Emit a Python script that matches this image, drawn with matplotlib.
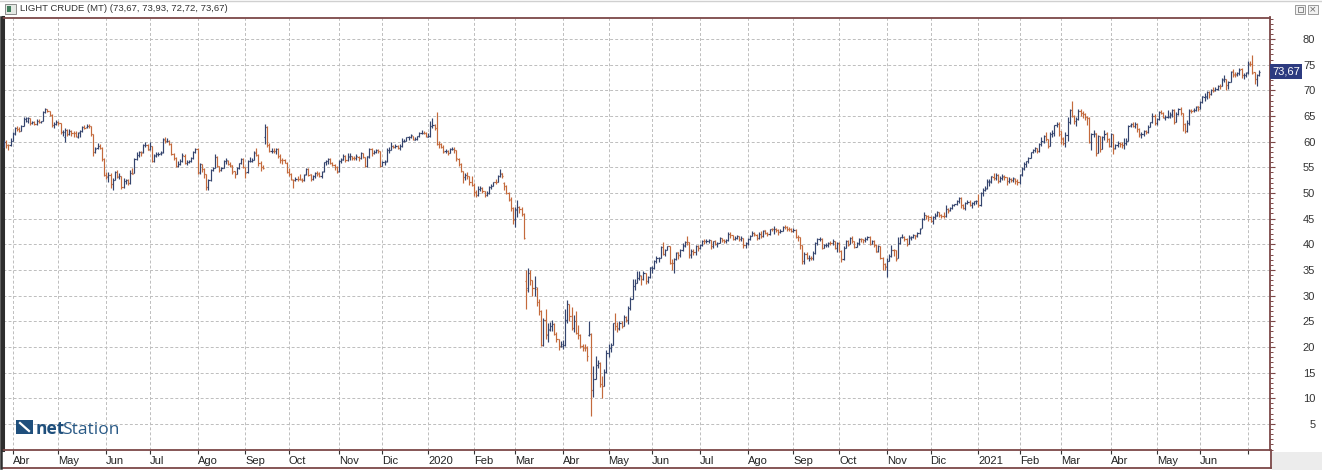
import numpy as np
import matplotlib
matplotlib.use('Agg')
import matplotlib.pyplot as plt
import matplotlib.transforms as mtransforms
from matplotlib.patches import Rectangle
from matplotlib.lines import Line2D
from matplotlib.ticker import MultipleLocator

# Barras diarias LIGHT CRUDE, un renglon por mes (mar 2019 parcial .. jul 2021 parcial)
month_labels = ['', 'Abr', 'May', 'Jun', 'Jul', 'Ago', 'Sep', 'Oct', 'Nov', 'Dic',
                '2020', 'Feb', 'Mar', 'Abr', 'May', 'Jun', 'Jul', 'Ago', 'Sep', 'Oct', 'Nov', 'Dic',
                '2021', 'Feb', 'Mar', 'Abr', 'May', 'Jun', '']

opens = [
    [59.0, 59.9, 59.4, 59.3],
    [60.2, 61.6, 62.6, 62.5, 62.1, 63.1, 64.4, 64.0, 64.6, 63.6, 63.9, 63.4, 64.1, 63.8, 64.1, 65.7, 66.3, 65.9, 65.2, 63.2, 63.5],
    [63.9, 63.6, 61.8, 61.0, 62.3, 61.4, 62.1, 61.7, 61.7, 61.0, 61.8, 62.0, 62.9, 62.8, 63.1, 63.0, 61.4, 57.9, 58.7, 59.1, 58.8, 56.6],
    [53.5, 53.2, 53.5, 51.7, 52.6, 54.0, 53.2, 53.3, 51.2, 52.3, 52.5, 51.9, 53.9, 53.8, 56.7, 57.4, 57.9, 57.9, 59.3, 59.4],
    [58.5, 59.1, 56.3, 57.3, 57.5, 57.7, 57.9, 60.4, 60.2, 60.2, 59.6, 57.6, 56.8, 55.3, 55.6, 56.2, 57.3, 55.9, 56.0, 56.2, 56.9, 58.0],
    [58.6, 54.0, 55.6, 54.7, 53.6, 51.1, 52.6, 54.5, 54.9, 57.1, 55.2, 54.5, 54.9, 56.2, 56.3, 55.7, 55.4, 54.2, 53.6, 54.9, 55.8, 56.7],
    [55.0, 54.0, 56.3, 56.3, 56.5, 57.9, 57.4, 55.8, 55.1, 61.0, 62.9, 59.3, 58.1, 58.1, 58.1, 58.6, 57.3, 56.5, 56.4, 55.9],
    [54.1, 53.6, 52.6, 52.5, 52.8, 52.8, 52.6, 52.6, 53.6, 54.7, 53.6, 52.8, 53.4, 53.9, 53.8, 53.3, 54.2, 56.0, 56.2, 56.7, 55.8, 55.5, 55.1],
    [54.2, 56.3, 56.5, 57.2, 56.4, 57.1, 57.2, 56.9, 56.8, 57.1, 56.8, 57.7, 57.0, 55.2, 57.1, 58.6, 57.8, 58.0, 58.4, 58.1],
    [55.2, 56.0, 56.2, 58.4, 58.4, 59.2, 59.0, 59.2, 58.8, 59.2, 60.1, 60.2, 60.9, 60.9, 61.2, 60.4, 60.5, 61.1, 61.7, 61.7, 61.7],
    [61.0, 61.2, 63.0, 63.3, 62.7, 59.6, 59.6, 59.0, 58.1, 58.2, 57.8, 58.5, 58.5, 58.3, 56.7, 55.6, 54.2, 53.1, 53.5, 53.3, 52.1],
    [51.6, 50.1, 49.6, 50.8, 51.0, 50.3, 49.6, 49.9, 51.2, 51.4, 52.1, 52.1, 53.3, 53.8, 52.0, 51.4, 49.9, 48.7, 47.1],
    [45.0, 46.8, 47.2, 46.8, 45.9, 32.9, 31.5, 34.4, 33.0, 31.5, 31.3, 28.7, 27.0, 20.4, 25.2, 22.4, 23.4, 24.0, 24.5, 22.6, 21.5, 20.1],
    [20.2, 20.3, 25.3, 28.3, 26.1, 23.6, 25.1, 22.8, 22.4, 20.1, 19.9, 19.9, 22.3, 22.5, 11.6, 13.8, 16.5, 16.9, 12.8, 12.3, 15.1],
    [18.8, 19.8, 20.4, 24.6, 24.0, 23.6, 24.7, 24.1, 25.8, 25.3, 27.6, 29.4, 31.8, 32.5, 33.5, 33.9, 33.3, 34.4, 32.8, 33.7],
    [35.3, 35.4, 36.8, 37.3, 37.4, 39.5, 38.2, 38.9, 39.6, 36.3, 36.3, 37.1, 38.4, 38.0, 38.8, 39.8, 40.5, 40.4, 38.0, 38.7, 38.5, 39.7],
    [39.3, 39.8, 40.7, 40.6, 40.6, 40.9, 39.6, 40.6, 40.1, 40.3, 41.2, 40.8, 40.6, 40.8, 42.0, 41.9, 41.1, 41.3, 41.6, 41.0, 41.3, 39.9],
    [40.3, 41.0, 41.7, 42.2, 41.9, 41.2, 42.0, 41.6, 42.7, 42.2, 42.0, 42.9, 42.9, 42.9, 42.8, 42.3, 42.6, 43.4, 43.4, 43.0, 43.0],
    [42.6, 42.8, 41.5, 41.4, 39.8, 36.8, 38.1, 37.3, 37.3, 37.3, 38.3, 40.2, 41.0, 41.1, 39.3, 39.8, 39.9, 40.3, 40.3, 40.6, 39.3],
    [40.2, 38.7, 37.1, 39.2, 40.7, 40.0, 41.2, 40.6, 39.4, 40.2, 41.0, 41.0, 40.9, 41.1, 41.5, 40.0, 40.6, 39.9, 38.6, 39.6, 37.4, 36.2],
    [35.6, 36.8, 37.7, 38.8, 38.8, 37.4, 40.3, 41.4, 41.5, 41.1, 40.1, 41.3, 41.4, 41.8, 41.7, 42.2, 43.1, 44.9, 45.7, 45.5],
    [45.3, 44.6, 45.3, 45.6, 46.3, 45.8, 45.6, 45.5, 46.8, 46.6, 47.0, 47.6, 47.8, 48.4, 49.1, 47.7, 47.0, 48.1, 48.2, 47.6, 48.0, 48.4],
    [48.4, 47.6, 50.0, 50.6, 50.9, 52.2, 52.2, 53.2, 52.9, 53.5, 52.4, 53.0, 53.2, 53.1, 52.3, 52.8, 52.6, 52.8, 52.3],
    [52.2, 53.6, 54.8, 55.7, 56.2, 56.9, 58.0, 58.4, 58.7, 58.2, 59.5, 60.0, 61.1, 60.5, 59.2, 61.5, 61.7, 63.2, 63.5],
    [62.0, 60.6, 59.8, 61.3, 63.8, 66.1, 65.0, 64.0, 64.4, 66.0, 65.6, 65.4, 64.8, 64.6, 60.0, 61.4, 61.6, 57.8, 61.2, 58.6, 61.0, 61.6, 60.6],
    [59.2, 61.5, 58.7, 59.3, 59.8, 59.6, 59.3, 59.7, 60.2, 63.2, 63.5, 63.1, 63.4, 62.4, 61.4, 61.4, 62.1, 61.9, 62.9, 63.9, 65.0],
    [63.6, 64.5, 65.7, 65.6, 64.7, 64.9, 64.9, 65.3, 66.1, 63.8, 65.4, 66.3, 65.5, 63.4, 62.1, 63.6, 66.1, 66.1, 66.2, 66.9],
    [66.8, 67.7, 68.8, 68.8, 69.6, 69.2, 70.1, 70.0, 70.3, 70.9, 70.9, 72.1, 72.2, 71.0, 71.6, 73.7, 73.1, 73.1, 73.3, 74.1, 72.9, 73.0],
    [73.5, 75.3, 75.2, 73.5, 72.2, 72.9],
]

highs = [
    [60.3, 60.4, 59.6, 60.7],
    [61.8, 62.9, 63.1, 62.8, 63.3, 64.8, 64.8, 64.8, 64.7, 64.0, 64.1, 64.4, 64.4, 64.1, 65.9, 66.6, 66.4, 66.0, 65.3, 63.9, 64.2],
    [64.1, 63.7, 62.2, 62.6, 62.5, 62.5, 62.2, 62.1, 62.0, 61.9, 62.3, 63.0, 63.3, 63.4, 63.5, 63.1, 61.5, 59.0, 59.7, 59.5, 58.9, 56.8],
    [54.0, 54.0, 53.8, 52.9, 54.2, 54.5, 53.8, 53.4, 52.9, 52.8, 52.7, 54.5, 54.8, 56.8, 58.0, 58.2, 58.2, 59.5, 59.9, 59.5],
    [60.0, 59.2, 57.6, 57.9, 58.0, 58.2, 60.8, 60.9, 60.7, 60.3, 59.7, 57.8, 57.0, 56.3, 56.6, 57.7, 57.5, 56.4, 56.4, 57.0, 58.2, 58.8],
    [58.8, 55.9, 55.7, 54.9, 53.7, 52.7, 54.6, 55.1, 57.5, 57.2, 55.3, 55.0, 56.4, 56.9, 56.5, 56.0, 55.5, 54.2, 55.0, 55.9, 56.9, 56.8],
    [55.1, 56.5, 57.0, 56.9, 58.1, 58.8, 57.5, 56.2, 55.4, 63.4, 63.1, 59.8, 58.8, 58.8, 58.8, 58.8, 57.5, 56.9, 56.6, 56.1],
    [54.8, 53.8, 52.8, 53.1, 53.4, 53.7, 53.0, 53.7, 54.9, 54.8, 53.7, 53.5, 54.0, 54.2, 54.0, 54.3, 56.1, 56.5, 56.9, 56.9, 56.0, 55.6, 55.3],
    [56.4, 56.9, 57.5, 57.4, 57.8, 57.7, 57.3, 57.2, 57.5, 57.2, 57.9, 57.8, 57.1, 57.3, 58.7, 58.8, 58.3, 58.5, 58.6, 58.2],
    [56.3, 56.4, 58.8, 58.9, 59.9, 59.4, 59.5, 59.4, 59.6, 60.7, 60.6, 61.0, 61.1, 61.5, 61.2, 60.9, 61.2, 61.9, 62.3, 62.0, 61.9],
    [61.6, 64.1, 64.7, 63.4, 65.7, 60.1, 59.7, 59.3, 58.6, 58.4, 58.7, 59.0, 58.9, 58.4, 56.9, 55.8, 54.3, 53.9, 54.0, 53.4, 53.3],
    [51.9, 50.6, 51.4, 51.3, 51.1, 50.3, 50.3, 51.3, 51.8, 52.2, 52.7, 53.5, 54.7, 53.9, 52.1, 51.6, 50.1, 49.2, 47.3],
    [47.3, 48.7, 47.4, 47.3, 46.0, 34.9, 35.3, 35.0, 33.0, 33.9, 31.7, 29.3, 27.1, 25.7, 27.3, 24.6, 24.8, 25.2, 24.6, 22.9, 21.6, 21.1],
    [21.3, 27.4, 29.1, 28.3, 27.7, 26.2, 26.9, 24.2, 22.6, 20.5, 20.6, 20.2, 25.1, 22.7, 16.2, 18.3, 17.5, 17.0, 14.4, 15.6, 19.4],
    [20.5, 20.7, 24.7, 26.7, 24.8, 25.0, 25.0, 26.2, 26.0, 28.0, 29.8, 33.3, 33.3, 34.7, 34.7, 34.0, 34.8, 34.4, 33.8, 35.6],
    [35.7, 36.9, 37.7, 37.6, 39.6, 40.4, 39.1, 39.7, 39.6, 37.2, 37.4, 38.5, 38.5, 39.0, 40.2, 40.6, 41.6, 40.4, 39.0, 39.1, 39.8, 39.8],
    [40.0, 40.9, 41.0, 41.0, 41.1, 40.9, 40.7, 40.9, 40.4, 41.5, 41.3, 41.0, 41.0, 42.4, 42.4, 41.9, 41.6, 41.8, 41.7, 41.6, 41.3, 40.4],
    [41.2, 41.9, 42.6, 42.3, 42.0, 42.4, 42.5, 42.8, 42.8, 42.4, 43.0, 43.2, 43.5, 43.1, 42.9, 42.9, 43.6, 43.8, 43.6, 43.3, 43.2],
    [43.1, 42.9, 41.8, 41.5, 39.9, 38.5, 38.4, 37.9, 37.8, 38.6, 40.4, 41.2, 41.5, 41.2, 40.1, 40.2, 40.5, 40.6, 41.0, 40.7, 40.4],
    [40.4, 38.9, 39.6, 40.9, 40.8, 41.5, 41.6, 40.6, 40.5, 41.2, 41.3, 41.1, 41.5, 41.7, 41.6, 40.9, 40.8, 40.0, 39.8, 39.6, 37.5, 36.3],
    [37.4, 38.2, 39.8, 39.0, 38.9, 41.5, 41.5, 42.0, 41.6, 41.2, 41.9, 41.6, 42.0, 41.9, 42.4, 43.2, 45.2, 46.3, 45.8, 45.7],
    [45.6, 45.5, 46.0, 46.5, 46.3, 45.9, 46.2, 47.7, 47.0, 47.3, 47.8, 47.9, 48.6, 49.3, 49.2, 47.9, 48.2, 48.6, 48.6, 48.2, 48.5, 48.6],
    [49.8, 50.2, 50.9, 51.3, 52.8, 52.8, 53.3, 53.9, 53.9, 53.6, 53.4, 53.6, 53.5, 53.1, 53.2, 53.0, 53.1, 53.0, 52.7],
    [53.7, 55.0, 56.0, 56.3, 57.0, 58.0, 58.6, 58.9, 58.8, 59.8, 60.9, 61.3, 61.8, 60.6, 61.8, 62.2, 63.3, 63.8, 63.8],
    [62.0, 60.9, 61.8, 64.9, 66.4, 67.98, 65.1, 64.8, 66.4, 66.3, 65.9, 65.5, 65.0, 64.8, 61.7, 62.2, 61.6, 61.3, 61.2, 61.2, 62.3, 61.8, 60.8],
    [61.6, 61.5, 59.6, 60.2, 60.0, 59.9, 60.8, 60.7, 63.2, 63.7, 63.8, 63.9, 63.6, 62.6, 61.8, 62.3, 62.3, 63.2, 63.9, 65.5, 65.4],
    [64.7, 66.0, 66.2, 65.7, 65.2, 66.1, 65.8, 66.4, 66.3, 65.7, 66.5, 66.7, 65.5, 63.6, 64.2, 66.3, 66.4, 66.5, 67.0, 67.0],
    [68.0, 68.9, 69.4, 69.8, 69.8, 70.3, 70.6, 70.6, 71.0, 71.3, 72.4, 72.9, 72.3, 71.9, 73.8, 74.2, 73.6, 73.6, 74.3, 74.4, 73.3, 73.6],
    [75.7, 75.7, 76.98, 73.6, 73.1, 73.93],
]

lows = [
    [58.9, 58.8, 58.4, 59.2],
    [60.1, 61.3, 62.0, 61.9, 62.0, 63.0, 63.8, 63.7, 63.3, 63.5, 63.3, 63.3, 63.6, 63.6, 64.0, 65.6, 65.7, 65.0, 62.9, 62.6, 63.3],
    [63.3, 61.5, 61.2, 60.0, 61.1, 61.3, 61.2, 60.9, 60.9, 60.7, 61.0, 61.9, 62.5, 62.6, 62.6, 61.1, 57.3, 57.8, 58.6, 58.5, 56.3, 53.4],
    [52.7, 52.1, 50.9, 50.6, 52.5, 53.0, 52.7, 50.7, 51.0, 51.8, 51.6, 51.7, 53.6, 53.8, 56.5, 57.0, 57.3, 57.8, 58.9, 58.3],
    [58.4, 56.1, 56.0, 57.0, 57.2, 57.4, 57.7, 59.8, 59.9, 59.3, 57.4, 56.4, 55.1, 55.0, 55.5, 56.0, 55.6, 55.5, 55.8, 56.0, 56.7, 57.8],
    [53.6, 53.6, 54.1, 53.0, 50.5, 50.6, 52.4, 54.2, 54.8, 55.1, 54.0, 54.3, 54.8, 55.6, 55.4, 55.0, 53.6, 53.0, 53.6, 54.6, 55.6, 54.9],
    [52.9, 53.9, 56.0, 56.0, 56.5, 57.2, 55.2, 54.3, 54.6, 59.5, 58.9, 57.9, 57.8, 57.8, 57.6, 56.9, 55.9, 55.6, 55.8, 53.9],
    [53.4, 52.5, 50.9, 52.3, 52.4, 52.5, 52.2, 52.4, 53.5, 53.4, 52.3, 52.5, 53.0, 53.4, 53.2, 52.9, 54.1, 55.4, 55.6, 55.6, 55.2, 54.5, 53.8],
    [54.1, 55.9, 56.4, 56.0, 56.2, 56.5, 56.4, 56.4, 56.4, 56.3, 56.6, 56.9, 55.0, 55.1, 56.8, 57.3, 57.5, 57.8, 57.8, 55.0],
    [55.3, 55.4, 56.0, 57.8, 58.3, 58.8, 58.7, 58.6, 58.4, 59.0, 59.9, 60.1, 60.4, 60.7, 60.3, 60.3, 60.4, 61.0, 61.5, 61.4, 60.9],
    [60.9, 61.0, 62.6, 62.2, 59.4, 58.7, 58.7, 57.8, 57.7, 57.4, 57.7, 58.3, 57.7, 56.2, 55.3, 54.0, 51.9, 52.6, 52.8, 51.6, 51.3],
    [49.4, 49.3, 49.4, 50.4, 49.9, 49.3, 49.4, 49.8, 50.8, 51.3, 51.7, 52.1, 53.2, 52.9, 50.5, 49.8, 48.5, 46.5, 44.0],
    [43.3, 45.3, 46.1, 45.6, 41.1, 27.3, 30.7, 32.1, 30.0, 30.0, 28.0, 26.3, 20.1, 20.2, 21.6, 21.0, 23.1, 23.0, 22.4, 21.0, 19.3, 19.9],
    [19.6, 20.2, 24.6, 25.0, 23.2, 22.9, 22.6, 21.5, 19.8, 19.2, 19.2, 17.3, 22.2, 6.5, 10.3, 13.9, 15.9, 12.1, 10.1, 12.3, 15.0],
    [18.0, 19.0, 20.3, 23.3, 22.9, 23.2, 23.7, 24.0, 24.8, 24.5, 27.2, 29.5, 31.0, 32.4, 33.1, 32.0, 33.1, 32.3, 32.4, 33.5],
    [34.4, 35.2, 36.4, 36.5, 37.3, 38.0, 37.8, 38.8, 36.1, 34.9, 34.4, 37.0, 37.2, 37.5, 38.6, 39.4, 39.9, 37.4, 37.3, 37.9, 38.0, 38.7],
    [39.0, 39.7, 40.0, 40.2, 40.3, 39.1, 39.2, 39.9, 39.5, 40.2, 40.5, 40.3, 40.2, 40.7, 41.2, 40.9, 40.9, 41.1, 40.6, 40.7, 39.2, 39.2],
    [39.8, 40.8, 41.6, 41.7, 40.9, 41.0, 41.3, 41.5, 42.0, 41.6, 41.8, 42.5, 42.0, 42.4, 41.9, 42.1, 42.5, 43.0, 42.6, 42.6, 42.3],
    [42.3, 41.3, 40.6, 39.1, 36.1, 36.1, 37.1, 36.8, 36.9, 37.0, 38.1, 39.9, 40.6, 39.0, 39.2, 39.4, 39.4, 39.9, 39.9, 39.0, 38.4],
    [38.5, 36.6, 37.0, 39.2, 39.6, 40.0, 40.3, 39.2, 39.4, 39.9, 40.5, 40.3, 40.5, 40.8, 39.8, 40.0, 39.5, 38.5, 38.5, 37.1, 35.0, 34.9],
    [33.6, 36.7, 37.5, 37.7, 36.8, 37.3, 40.0, 41.2, 40.6, 39.7, 40.0, 40.9, 41.2, 41.0, 41.5, 42.0, 43.1, 44.8, 45.0, 44.5],
    [44.3, 44.0, 45.0, 45.5, 45.4, 45.2, 45.2, 45.4, 46.1, 46.4, 46.8, 47.4, 47.7, 48.0, 47.1, 46.8, 46.7, 47.8, 47.5, 47.1, 47.7, 47.9],
    [47.2, 47.5, 49.5, 50.3, 50.7, 51.3, 52.0, 52.5, 52.6, 52.0, 52.2, 52.6, 52.6, 51.5, 51.9, 52.2, 52.2, 51.8, 51.6],
    [51.8, 53.4, 54.5, 55.1, 55.9, 56.8, 57.7, 57.9, 57.7, 58.0, 59.2, 59.8, 60.2, 58.8, 59.1, 60.9, 61.2, 62.8, 61.1],
    [59.5, 59.3, 59.0, 60.1, 63.4, 64.9, 63.5, 63.1, 64.3, 65.0, 64.7, 64.2, 63.2, 59.8, 58.3, 60.9, 57.3, 58.1, 57.9, 58.7, 60.3, 60.0, 58.9],
    [58.9, 57.6, 58.5, 58.9, 58.9, 58.8, 58.6, 59.4, 60.1, 62.8, 62.9, 62.7, 61.8, 60.9, 60.8, 61.1, 61.4, 61.6, 62.8, 63.6, 63.2],
    [63.3, 64.2, 65.3, 64.6, 64.3, 64.6, 64.6, 64.8, 63.4, 63.8, 65.1, 65.2, 62.1, 61.6, 61.8, 63.3, 65.6, 65.8, 65.9, 66.0],
    [66.3, 67.5, 68.0, 68.4, 68.5, 69.0, 69.6, 69.8, 70.0, 70.3, 70.8, 71.7, 70.0, 70.2, 71.6, 72.6, 72.6, 72.8, 73.0, 72.5, 72.2, 72.6],
    [73.2, 74.7, 73.1, 71.2, 70.76, 72.72],
]

closes = [
    [59.94, 59.41, 59.30, 60.14],
    [61.59, 62.58, 62.46, 62.10, 63.08, 64.40, 64.61, 64.61, 63.58, 63.89, 63.40, 64.05, 63.76, 64.00, 65.70, 66.30, 65.89, 65.21, 63.30, 63.50, 63.91],
    [63.60, 61.81, 61.94, 62.25, 61.40, 62.12, 61.70, 61.66, 61.04, 61.78, 62.02, 62.87, 62.76, 63.10, 62.99, 61.42, 57.91, 58.63, 59.14, 58.81, 56.59, 53.50],
    [53.25, 53.48, 51.68, 52.59, 53.99, 53.26, 53.27, 51.14, 52.28, 52.51, 51.93, 53.90, 53.76, 56.65, 57.43, 57.90, 57.83, 59.38, 59.43, 58.47],
    [59.09, 56.25, 57.34, 57.51, 57.66, 57.83, 60.43, 60.20, 60.21, 59.58, 57.62, 56.78, 55.30, 55.63, 56.22, 57.35, 55.88, 56.02, 56.20, 56.87, 58.05, 58.58],
    [53.95, 55.66, 54.69, 53.63, 51.09, 52.54, 54.50, 54.93, 57.10, 55.23, 54.47, 54.87, 56.21, 56.34, 55.68, 55.35, 54.17, 53.64, 54.93, 55.78, 56.71, 55.10],
    [53.94, 56.26, 56.30, 56.52, 57.85, 57.40, 55.75, 55.09, 54.85, 62.90, 59.34, 58.11, 58.13, 58.09, 58.64, 57.29, 56.49, 56.41, 55.91, 54.07],
    [53.62, 52.64, 52.45, 52.81, 52.75, 52.63, 52.59, 53.55, 54.70, 53.59, 52.81, 53.36, 53.93, 53.78, 53.31, 54.16, 55.97, 56.23, 56.66, 55.81, 55.54, 55.06, 54.18],
    [56.20, 56.54, 57.23, 56.35, 57.15, 57.24, 56.86, 56.80, 57.12, 56.77, 57.72, 57.05, 55.21, 57.11, 58.58, 57.77, 58.01, 58.41, 58.11, 55.17],
    [55.96, 56.10, 58.43, 58.43, 59.20, 59.02, 59.24, 58.76, 59.18, 60.07, 60.21, 60.94, 60.93, 61.22, 60.44, 60.52, 61.11, 61.68, 61.72, 61.68, 61.06],
    [61.18, 63.05, 63.27, 62.70, 59.61, 59.56, 59.04, 58.08, 58.23, 57.81, 58.52, 58.54, 58.34, 56.74, 55.59, 54.19, 53.14, 53.48, 53.33, 52.14, 51.56],
    [50.11, 49.61, 50.75, 50.95, 50.32, 49.57, 49.94, 51.17, 51.42, 52.05, 52.05, 53.29, 53.78, 53.38, 51.43, 49.90, 48.73, 47.09, 44.76],
    [46.75, 47.18, 46.78, 45.90, 41.28, 31.13, 34.36, 32.98, 31.50, 31.73, 28.70, 26.95, 20.37, 25.22, 22.43, 23.36, 24.01, 24.49, 22.60, 21.51, 20.09, 20.48],
    [20.31, 25.32, 28.34, 26.08, 23.63, 25.09, 22.76, 22.41, 20.11, 19.87, 19.87, 18.27, 22.60, 11.57, 13.78, 16.50, 16.94, 12.78, 12.34, 15.06, 18.84],
    [19.78, 20.39, 24.56, 23.99, 23.55, 24.74, 24.14, 25.78, 25.29, 27.56, 29.43, 31.82, 32.50, 33.49, 33.92, 33.25, 34.35, 32.81, 33.71, 35.49],
    [35.44, 36.81, 37.29, 37.41, 39.55, 38.19, 38.94, 39.60, 36.34, 36.26, 37.12, 38.38, 37.96, 38.84, 39.75, 40.46, 40.37, 38.01, 38.72, 38.49, 39.70, 39.27],
    [39.82, 40.65, 40.63, 40.62, 40.90, 39.62, 40.55, 40.10, 40.29, 41.20, 40.75, 40.59, 40.81, 41.96, 41.90, 41.07, 41.29, 41.60, 41.04, 41.27, 39.92, 40.27],
    [41.01, 41.70, 42.19, 41.95, 41.22, 41.94, 41.61, 42.67, 42.24, 42.01, 42.89, 42.89, 42.93, 42.82, 42.34, 42.62, 43.35, 43.39, 43.04, 42.97, 42.61],
    [42.76, 41.51, 41.37, 39.77, 36.76, 38.05, 37.30, 37.33, 37.26, 38.28, 40.16, 40.97, 41.11, 39.31, 39.80, 39.93, 40.31, 40.25, 40.60, 39.29, 40.22],
    [38.72, 37.05, 39.22, 40.67, 39.95, 41.19, 40.60, 39.43, 40.20, 41.04, 40.96, 40.88, 41.06, 41.46, 40.03, 40.64, 39.85, 38.56, 39.57, 37.39, 36.17, 35.79],
    [36.81, 37.66, 38.79, 38.79, 37.14, 40.29, 41.36, 41.45, 41.12, 40.13, 41.34, 41.43, 41.82, 41.74, 42.15, 43.06, 44.91, 45.71, 45.53, 45.34],
    [44.55, 45.28, 45.64, 46.26, 45.76, 45.60, 45.52, 46.78, 46.57, 46.99, 47.62, 47.82, 48.36, 49.10, 47.74, 47.02, 48.12, 48.23, 47.62, 48.00, 48.40, 48.52],
    [47.62, 49.93, 50.63, 50.83, 52.24, 52.25, 53.21, 52.91, 53.57, 52.36, 52.98, 53.24, 53.13, 52.27, 52.77, 52.61, 52.85, 52.34, 52.20],
    [53.55, 54.76, 55.69, 56.23, 56.85, 57.97, 58.36, 58.68, 58.24, 59.47, 60.05, 61.14, 60.52, 59.24, 61.49, 61.67, 63.22, 63.53, 61.50],
    [60.64, 59.75, 61.28, 63.83, 66.09, 65.05, 64.01, 64.44, 66.02, 65.61, 65.39, 64.80, 64.60, 60.00, 61.42, 61.55, 57.76, 61.18, 58.56, 60.97, 61.56, 60.55, 59.16],
    [61.45, 58.65, 59.33, 59.77, 59.60, 59.32, 59.70, 60.18, 63.15, 63.46, 63.13, 63.38, 62.44, 61.35, 61.43, 62.14, 61.91, 62.94, 63.86, 65.01, 63.58],
    [64.49, 65.69, 65.63, 64.71, 64.90, 64.92, 65.28, 66.08, 63.82, 65.37, 66.27, 65.49, 63.36, 62.05, 63.58, 66.05, 66.07, 66.21, 66.85, 66.32],
    [67.72, 68.83, 68.81, 69.62, 69.23, 70.05, 69.96, 70.29, 70.91, 70.88, 72.12, 72.15, 71.04, 71.64, 73.66, 73.06, 73.08, 73.30, 74.05, 72.91, 72.98, 73.47],
    [75.23, 75.16, 73.37, 72.20, 72.94, 73.67],
]

# colores y medidas tomadas de la captura
UP = '#34446e'
DOWN = '#c46a3c'
MAROON = '#7c4848'
W, H = 1322, 470


def fx(px):
    return px / W


def fy(py):
    return 1 - py / H


for i in range(len(closes)):
    n_m = len(closes[i])
    if not (len(opens[i]) == len(highs[i]) == len(lows[i]) == n_m):
        raise ValueError('mes %d: %d %d %d %d' % (i, len(opens[i]), len(highs[i]), len(lows[i]), n_m))

o = np.concatenate(opens)
h = np.concatenate(highs)
l = np.concatenate(lows)
c = np.concatenate(closes)
h = np.maximum(h, np.maximum(o, c))
l = np.minimum(l, np.minimum(o, c))
x = np.arange(len(c))

fig = plt.figure(figsize=(W / 100, H / 100), dpi=100)
fig.patch.set_facecolor('white')
ax = fig.add_axes([fx(3), fy(449.5), fx(1270) - fx(3), fy(17.5) - fy(449.5)])

# barras OHLC
cols = np.where(c >= o, UP, DOWN)
ax.vlines(x, l, h, colors=cols, lw=0.85, zorder=3)
ax.hlines(o, x - 0.5, x, colors=cols, lw=0.85, zorder=3)
ax.hlines(c, x, x + 0.5, colors=cols, lw=0.85, zorder=3)

ax.set_xlim(-0.46, 582.1)
ax.set_ylim(0, 84.2)

# eje x: inicio de cada mes
counts = [len(m) for m in closes]
starts = np.cumsum([0] + counts[:-1])
ax.set_xticks(starts[1:])
ax.set_xticklabels(month_labels[1:], fontsize=8, ha='left', color='#222222',
                   family='Liberation Sans')
shift = mtransforms.ScaledTranslation(2 / 100, 0, fig.dpi_scale_trans)
for lab in ax.get_xticklabels():
    lab.set_transform(lab.get_transform() + shift)
ax.tick_params(axis='x', direction='out', length=3, width=0.8, color='#333333', pad=1.5)

# eje y a la derecha
ax.yaxis.tick_right()
ax.set_yticks(np.arange(5, 81, 5))
ax.yaxis.set_minor_locator(MultipleLocator(1))
ax.tick_params(axis='y', which='major', length=3.6, width=0.8, color=MAROON,
               labelsize=8, labelcolor='#333333', pad=29)
ax.tick_params(axis='y', which='minor', length=2.2, width=0.7, color=MAROON)
for lab in ax.get_yticklabels():
    lab.set_horizontalalignment('right')
    lab.set_family('Liberation Sans')

ax.grid(True, which='major', color='#bdbdbd', linestyle=(0, (3, 2.2)), lw=0.7)
ax.set_axisbelow(True)

for side in ['top', 'right', 'bottom']:
    ax.spines[side].set_color(MAROON)
    ax.spines[side].set_linewidth(1.3)
ax.spines['left'].set_color('#2e2e2e')
ax.spines['left'].set_linewidth(2.2)

# etiqueta del ultimo precio
last = '%.2f' % c[-1]
tag_tr = mtransforms.blended_transform_factory(ax.transAxes, ax.transData)
ax.text(1.0018, c[-1], last.replace('.', ','), transform=tag_tr, ha='left', va='center',
        fontsize=8, color='white', family='Liberation Sans', clip_on=False, zorder=6,
        bbox=dict(boxstyle='square,pad=0.2', fc='#2d3b80', ec='none'))

# titulo de la ventana
vals = [c[-1], h[-1], l[-1], c[-1]]
title = 'LIGHT CRUDE (MT) (' + ', '.join(('%.2f' % v).replace('.', ',') for v in vals) + ')'
fig.text(fx(20), fy(8.5), title, fontsize=6.8, va='center', ha='left', color='#333333',
         family='Liberation Sans')
fig.add_artist(Rectangle((fx(5), fy(14)), fx(11), 10 / H, transform=fig.transFigure,
                         fc='#e4e9e4', ec='#8a8a8a', lw=0.7))
fig.add_artist(Rectangle((fx(7), fy(12)), fx(3.5), 6 / H, transform=fig.transFigure,
                         fc='#3f7d5c', ec='none'))
for bx, glyph in [(1295, ''), (1308, '×')]:
    fig.add_artist(Rectangle((fx(bx), fy(14)), fx(10), 9 / H, transform=fig.transFigure,
                             fc='#f2f2f2', ec='#9a9a9a', lw=0.7))
    if glyph:
        fig.text(fx(bx + 5), fy(9.3), glyph, fontsize=6.5, ha='center', va='center', color='#666666')
    else:
        fig.add_artist(Rectangle((fx(bx + 2.5), fy(12)), fx(5), 5 / H, transform=fig.transFigure,
                                 fc='none', ec='#777777', lw=0.6))
fig.add_artist(Line2D([0, 1], [fy(0.5), fy(0.5)], transform=fig.transFigure, color='#d0d0d0', lw=1))

# marco de la banda de fechas y zona gris
fig.add_artist(Line2D([fx(3), fx(1270.5)], [fy(467.5), fy(467.5)], transform=fig.transFigure,
                      color=MAROON, lw=1.3))
fig.add_artist(Line2D([fx(1270.5), fx(1270.5)], [fy(449.5), fy(467.5)], transform=fig.transFigure,
                      color=MAROON, lw=1.3))
fig.add_artist(Line2D([fx(1.2), fx(1.2)], [fy(17), fy(468)], transform=fig.transFigure,
                      color='#2e2e2e', lw=1.8))
fig.add_artist(Rectangle((fx(1272), 0), 1 - fx(1272), fy(451.5), transform=fig.transFigure,
                         fc='#ececec', ec='none', zorder=0.5))

# logo netStation
fig.add_artist(Rectangle((fx(16), fy(434)), fx(17), 14 / H, transform=fig.transFigure,
                         fc='#1f4f7c', ec='none'))
fig.add_artist(Line2D([fx(20), fx(29)], [fy(423), fy(431)], transform=fig.transFigure,
                      color='white', lw=1.6))
t1 = fig.text(fx(36), fy(433.5), 'net', fontsize=12.5, fontweight='bold', color='#1f4f7c',
              family='Open Sans', va='baseline', ha='left')
fig.canvas.draw()
bb = t1.get_window_extent()
fig.text((bb.x1 - 3) / W, fy(433.5), 'Station', fontsize=12.5, color='#2a5a86',
         family='Open Sans', va='baseline', ha='left')

fig.savefig('out.png', dpi=100, facecolor='white')
